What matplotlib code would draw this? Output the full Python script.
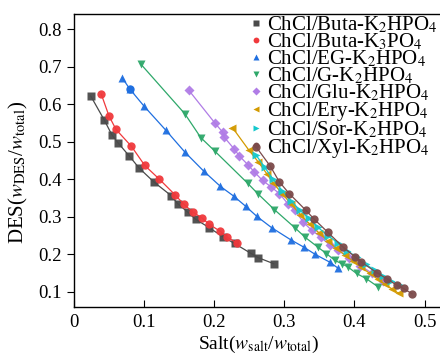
import matplotlib
matplotlib.use("Agg")
import matplotlib.pyplot as plt

plt.rcParams['font.family'] = ['Liberation Serif', 'DejaVu Serif']
plt.rcParams['mathtext.fontset'] = 'stix'

# data
buta_k2_x = [0.024, 0.043, 0.054, 0.063, 0.079, 0.093, 0.114, 0.139, 0.148, 0.162, 0.174, 0.193, 0.213, 0.229, 0.252, 0.263, 0.285]
buta_k2_y = [0.622, 0.559, 0.519, 0.497, 0.462, 0.430, 0.393, 0.356, 0.335, 0.313, 0.293, 0.271, 0.246, 0.229, 0.203, 0.191, 0.175]

buta_k3_x = [0.039, 0.050, 0.060, 0.082, 0.101, 0.122, 0.144, 0.157, 0.170, 0.182, 0.193, 0.209, 0.218, 0.232]
buta_k3_y = [0.627, 0.569, 0.533, 0.488, 0.437, 0.400, 0.359, 0.333, 0.312, 0.298, 0.280, 0.261, 0.246, 0.231]

eg_x = [0.069, 0.080, 0.100, 0.131, 0.158, 0.185, 0.209, 0.228, 0.245, 0.261, 0.282, 0.309, 0.328, 0.344, 0.365, 0.376]
eg_y = [0.670, 0.640, 0.595, 0.531, 0.473, 0.422, 0.381, 0.355, 0.328, 0.301, 0.271, 0.239, 0.219, 0.200, 0.179, 0.164]

g_x = [0.095, 0.158, 0.181, 0.201, 0.248, 0.262, 0.286, 0.315, 0.330, 0.348, 0.360, 0.372, 0.382, 0.391, 0.403, 0.417, 0.434]
g_y = [0.708, 0.575, 0.511, 0.475, 0.389, 0.362, 0.319, 0.271, 0.245, 0.219, 0.202, 0.184, 0.175, 0.166, 0.149, 0.135, 0.113]

glu_x = [0.164, 0.201, 0.212, 0.214, 0.228, 0.236, 0.248, 0.257, 0.269, 0.281, 0.293, 0.305, 0.315, 0.327, 0.339, 0.353, 0.365, 0.377, 0.392, 0.408, 0.425, 0.440]
glu_y = [0.637, 0.550, 0.526, 0.513, 0.482, 0.462, 0.439, 0.420, 0.397, 0.380, 0.362, 0.335, 0.318, 0.286, 0.264, 0.245, 0.224, 0.211, 0.190, 0.170, 0.150, 0.130]

ery_x = [0.226, 0.249, 0.263, 0.275, 0.284, 0.297, 0.310, 0.323, 0.336, 0.349, 0.362, 0.374, 0.386, 0.398, 0.410, 0.422, 0.433, 0.444, 0.454, 0.463]
ery_y = [0.538, 0.479, 0.446, 0.415, 0.390, 0.362, 0.333, 0.306, 0.281, 0.258, 0.236, 0.216, 0.199, 0.182, 0.165, 0.149, 0.134, 0.120, 0.107, 0.096]

sor_x = [0.260, 0.272, 0.284, 0.297, 0.310, 0.322, 0.335, 0.348, 0.362, 0.377, 0.390, 0.403, 0.416, 0.429, 0.440, 0.452, 0.465]
sor_y = [0.464, 0.432, 0.400, 0.370, 0.342, 0.318, 0.296, 0.272, 0.250, 0.230, 0.210, 0.192, 0.174, 0.157, 0.143, 0.130, 0.119]

xyl_x = [0.260, 0.280, 0.293, 0.307, 0.331, 0.343, 0.362, 0.384, 0.401, 0.410, 0.432, 0.446, 0.461, 0.470, 0.482]
xyl_y = [0.486, 0.435, 0.393, 0.362, 0.317, 0.293, 0.259, 0.219, 0.193, 0.179, 0.151, 0.135, 0.117, 0.109, 0.095]

labels = ['ChCl/Buta-K$_2$HPO$_4$', 'ChCl/Buta-K$_3$PO$_4$', 'ChCl/EG-K$_2$HPO$_4$',
          'ChCl/G-K$_2$HPO$_4$', 'ChCl/Glu-K$_2$HPO$_4$', 'ChCl/Ery-K$_2$HPO$_4$',
          'ChCl/Sor-K$_2$HPO$_4$', 'ChCl/Xyl-K$_2$HPO$_4$']
colors = ['#4a4a4a', '#f0393c', '#1f6fe0', '#2ea86a', '#b07ce6', '#d39a00', '#14c8cc', '#7b4a4a']
markers = ['s', 'o', '^', 'v', 'D', '<', '>', 'o']
sizes = [5.5, 6, 6, 6, 5, 6, 6, 6]

series = [(buta_k2_x, buta_k2_y), (buta_k3_x, buta_k3_y), (eg_x, eg_y), (g_x, g_y),
          (glu_x, glu_y), (ery_x, ery_y), (sor_x, sor_y), (xyl_x, xyl_y)]

fig = plt.figure(figsize=(4.4, 3.56), dpi=100)
ax = fig.add_axes([0.168, 0.138, 0.84, 0.824])

handles = []
for (x, y), lab, c, m, s in zip(series, labels, colors, markers, sizes):
    ax.plot(x, y, '-', color=c, lw=0.9)
    ax.plot(x, y, m, color=c, ms=s, mec='none', alpha=0.95)
    h, = ax.plot([], [], m, color=c, ms=4.2, mec='none', label=lab)
    handles.append(h)

# one EG point is drawn as a circle in the original
ax.plot(eg_x[1], eg_y[1], 'o', color=colors[2], ms=6, mec='none')

ax.set_xlim(0, 0.527)
ax.set_ylim(0.06, 0.842)
ax.set_xticks([0, 0.1, 0.2, 0.3, 0.4, 0.5])
ax.set_xticklabels(['0', '0.1', '0.2', '0.3', '0.4', '0.5'])
ax.set_yticks([0.1, 0.2, 0.3, 0.4, 0.5, 0.6, 0.7, 0.8])
ax.tick_params(axis='x', direction='in', length=5, labelsize=13.5, pad=5)
ax.tick_params(axis='y', direction='out', length=5, labelsize=13.5)
for sp in ax.spines.values():
    sp.set_linewidth(1.0)

ax.set_xlabel('Salt($w_{\\rm salt}$/$w_{\\rm total}$)', fontsize=14, labelpad=2)
ax.set_ylabel('DES($w_{\\rm DES}$/$w_{\\rm total}$)', fontsize=15)
ax.yaxis.set_label_coords(-0.118, 0.46)

fig.legend(handles=handles, loc='upper left', bbox_to_anchor=(0.567, 0.96), frameon=False,
           fontsize=15, handlelength=0.6, handletextpad=0.25, labelspacing=-0.17,
           borderpad=0, borderaxespad=0)

fig.savefig('out.png', dpi=100)
